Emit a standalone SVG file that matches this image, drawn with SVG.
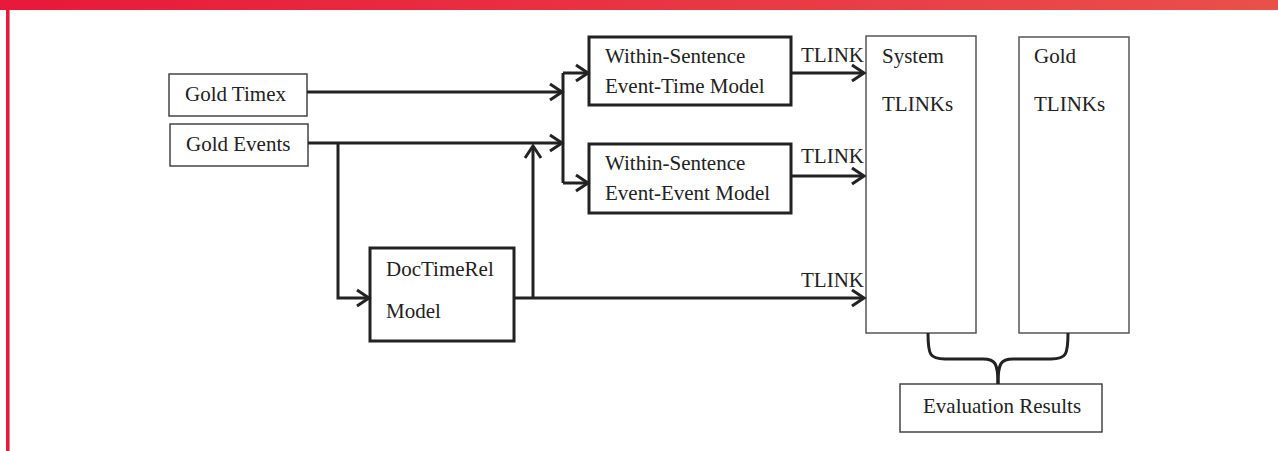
<svg xmlns="http://www.w3.org/2000/svg" width="1278" height="451" viewBox="0 0 1278 451">
<defs>
<linearGradient id="bar" x1="0" y1="0" x2="1" y2="0">
<stop offset="0" stop-color="#e8183a"/>
<stop offset="1" stop-color="#e9504b"/>
</linearGradient>
<marker id="arr" viewBox="0 0 14 20" refX="13" refY="10" markerUnits="userSpaceOnUse" markerWidth="14" markerHeight="20" orient="auto" overflow="visible">
<path d="M1,2 L13,10 L1,18" fill="none" stroke="#222" stroke-width="3" stroke-linejoin="miter"/>
</marker>
<style>
.thin{fill:#fff;stroke:#444;stroke-width:1.5}
.thick{fill:#fff;stroke:#222;stroke-width:3}
.tall{fill:#fff;stroke:#555;stroke-width:1.5}
text{font-family:"Liberation Serif","Times New Roman",serif;font-size:21px;fill:#222}
.ln{fill:none;stroke:#222;stroke-width:3}
.ar{fill:none;stroke:#222;stroke-width:3;marker-end:url(#arr)}
</style>
</defs>
<rect x="0" y="0" width="1278" height="451" fill="#fff"/>
<rect x="0" y="0" width="1278" height="10" fill="url(#bar)"/>
<rect x="6" y="10" width="3" height="441" fill="#e31c3a"/>
<rect x="9" y="10" width="1" height="441" fill="#f07a88"/>

<g id="goldTimex"><rect class="thin" x="169" y="74" width="138" height="42"/><text x="185" y="101">Gold Timex</text></g>
<g id="goldEvents"><rect class="thin" x="170" y="124" width="138" height="42"/><text x="186" y="151">Gold Events</text></g>
<g id="eventTime"><rect class="thick" x="589" y="37" width="202" height="68"/><text x="605" y="63">Within-Sentence</text><text x="605" y="93">Event-Time Model</text></g>
<g id="eventEvent"><rect class="thick" x="589" y="144" width="202" height="69"/><text x="605" y="170">Within-Sentence</text><text x="605" y="200">Event-Event Model</text></g>
<g id="docTimeRel"><rect class="thick" x="370" y="248" width="144" height="93"/><text x="386" y="276">DocTimeRel</text><text x="386" y="318">Model</text></g>
<g id="systemTlinks"><rect class="tall" x="866" y="36" width="110" height="297"/><text x="882" y="63">System</text><text x="882" y="111">TLINKs</text></g>
<g id="goldTlinks"><rect class="tall" x="1019" y="37" width="110" height="296"/><text x="1034" y="63">Gold</text><text x="1034" y="111">TLINKs</text></g>
<g id="evalResults"><rect class="thin" x="900" y="384" width="202" height="48"/><text x="923" y="413">Evaluation Results</text></g>

<g id="connectors">
<path class="ar" d="M307,92 H562"/>
<path class="ar" d="M308,143 H562"/>
<path class="ln" d="M563,73 V183"/>
<path class="ar" d="M563,73 H588"/>
<path class="ar" d="M563,183 H588"/>
<path class="ar" d="M338,143 V298 H369"/>
<path class="ar" d="M533,298 V146"/>
<path class="ar" d="M514,298 H864"/>
<path class="ar" d="M791,73 H864"/>
<path class="ar" d="M791,176 H864"/>
<path class="ln" d="M928,333 C928,355 930,359 945,359 H983 C995,359 998,363 998,384"/>
<path class="ln" d="M1068,333 C1068,355 1066,359 1051,359 H1013 C1001,359 998,363 998,384"/>
<text x="801" y="62">TLINK</text>
<text x="801" y="163">TLINK</text>
<text x="801" y="287">TLINK</text>
</g>
</svg>
